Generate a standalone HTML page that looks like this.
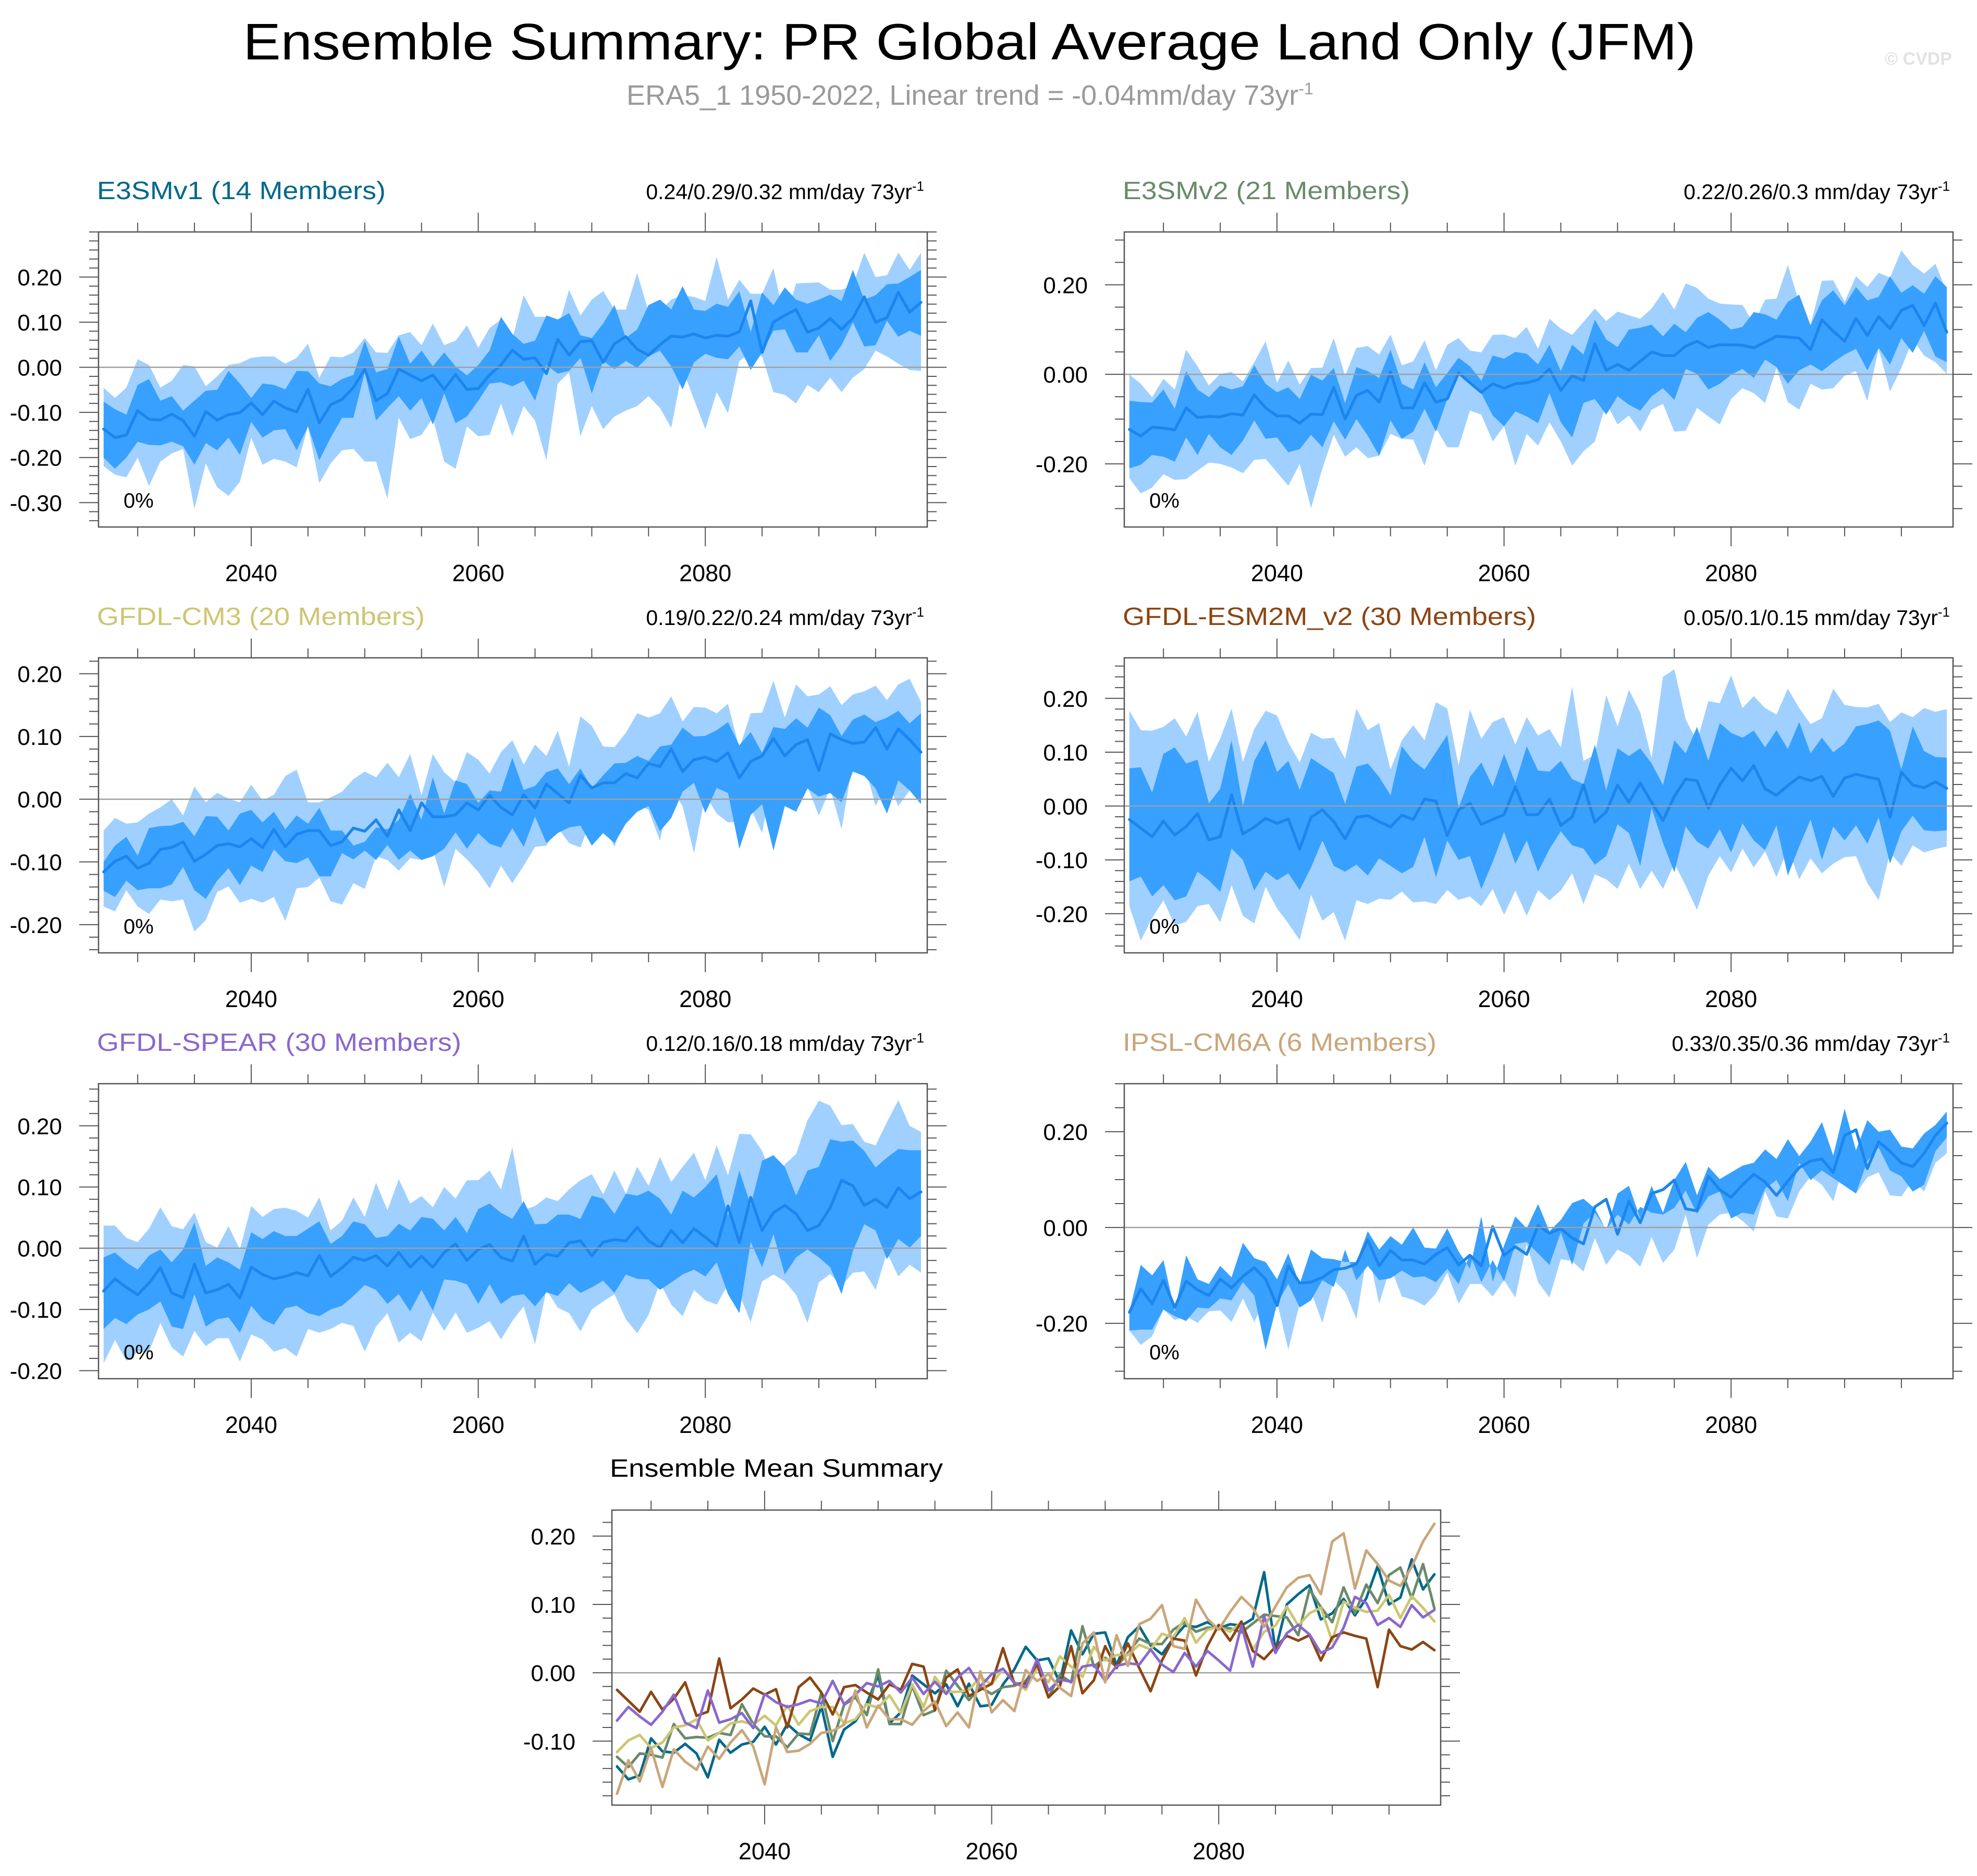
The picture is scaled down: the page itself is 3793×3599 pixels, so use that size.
<!DOCTYPE html>
<html><head><meta charset="utf-8"><title>Ensemble Summary: PR Global Average Land Only (JFM)</title>
<style>html,body{margin:0;padding:0;background:#fff;}svg{display:block;font-family:"Liberation Sans",Arial,sans-serif;}</style>
</head><body>
<svg id="root" width="3793" height="3599" viewBox="0 0 3793 3599" xmlns="http://www.w3.org/2000/svg">
<text x="1860" y="114" font-size="98" text-anchor="middle" textLength="2787" lengthAdjust="spacingAndGlyphs" fill="#000">Ensemble Summary: PR Global Average Land Only (JFM)</text>
<text x="1202" y="201" font-size="54" fill="#9a9a9a">ERA5_1 1950-2022, Linear trend = -0.04mm/day 73yr<tspan dy="-20" font-size="32">-1</tspan></text>
<text x="3745" y="124" font-size="34" font-weight="bold" text-anchor="end" fill="#e2e2e2">© CVDP</text>
<g id="plots"></g>
</svg>
<script>
const years = [2027,2028,2029,2030,2031,2032,2033,2034,2035,2036,2037,2038,2039,2040,2041,2042,2043,2044,2045,2046,2047,2048,2049,2050,2051,2052,2053,2054,2055,2056,2057,2058,2059,2060,2061,2062,2063,2064,2065,2066,2067,2068,2069,2070,2071,2072,2073,2074,2075,2076,2077,2078,2079,2080,2081,2082,2083,2084,2085,2086,2087,2088,2089,2090,2091,2092,2093,2094,2095,2096,2097,2098,2099];
const xTickLabels = [2040,2060,2080];

// E3SMv1
const e3smv1Mean = [-0.137,-0.156,-0.15,-0.096,-0.115,-0.117,-0.104,-0.118,-0.153,-0.098,-0.117,-0.105,-0.101,-0.079,-0.105,-0.075,-0.09,-0.099,-0.049,-0.123,-0.083,-0.071,-0.045,-0.004,-0.074,-0.058,-0.004,-0.017,-0.03,-0.017,-0.049,-0.016,-0.049,-0.047,-0.017,0.005,0.038,0.018,0.021,-0.014,0.062,0.027,0.057,0.059,0.011,0.052,0.068,0.04,0.027,0.05,0.069,0.067,0.074,0.065,0.071,0.069,0.079,0.147,0.033,0.1,0.115,0.128,0.078,0.087,0.108,0.084,0.109,0.156,0.1,0.11,0.166,0.122,0.144];
const e3smv1InHi = [-0.076,-0.093,-0.105,-0.039,-0.026,-0.074,-0.064,-0.096,-0.074,-0.052,-0.05,-0.008,-0.036,-0.068,-0.036,-0.039,-0.049,-0.008,-0.009,-0.036,-0.042,-0.026,-0.017,0.059,-0.011,-0.004,0.068,0.008,0.037,0.002,0.033,0.002,-0.018,0.005,0.037,0.112,0.074,0.052,0.059,0.115,0.106,0.12,0.071,0.065,0.097,0.138,0.065,0.084,0.138,0.15,0.128,0.18,0.128,0.125,0.141,0.134,0.169,0.078,0.166,0.138,0.177,0.15,0.141,0.15,0.161,0.147,0.216,0.15,0.16,0.184,0.186,0.2,0.216];
const e3smv1InLo = [-0.2,-0.225,-0.2,-0.165,-0.172,-0.173,-0.165,-0.175,-0.216,-0.168,-0.184,-0.156,-0.194,-0.121,-0.156,-0.14,-0.137,-0.184,-0.131,-0.206,-0.156,-0.112,-0.112,-0.011,-0.118,-0.09,-0.064,-0.096,-0.068,-0.127,-0.058,-0.124,-0.109,-0.074,-0.036,-0.033,-0.042,-0.03,-0.074,0.005,-0.014,-0.008,0.021,-0.058,0.014,-0.004,0.014,-0.001,0.024,0.037,0.002,-0.049,0.011,0.03,0.021,0.018,0.046,-0.006,0.033,0.081,0.084,0.033,0.033,0.071,0.014,0.049,0.1,0.046,0.049,0.103,0.068,0.081,0.07];
const e3smv1OutHi = [-0.045,-0.068,-0.045,0.018,0.005,-0.045,-0.03,0.005,0.002,-0.042,-0.02,0.005,0.009,0.021,0.024,0.024,0.008,0.021,0.052,-0.023,0.024,0.022,0.033,0.065,0.033,0.032,0.071,0.078,0.049,0.097,0.049,0.059,0.093,0.043,0.087,0.106,0.062,0.16,0.112,0.112,0.084,0.172,0.115,0.15,0.169,0.128,0.128,0.209,0.123,0.125,0.15,0.16,0.156,0.147,0.245,0.15,0.194,0.163,0.163,0.22,0.103,0.186,0.187,0.188,0.172,0.172,0.181,0.254,0.2,0.204,0.254,0.216,0.254];
const e3smv1OutLo = [-0.219,-0.238,-0.244,-0.2,-0.263,-0.209,-0.191,-0.181,-0.314,-0.213,-0.266,-0.285,-0.254,-0.156,-0.216,-0.203,-0.209,-0.222,-0.131,-0.257,-0.213,-0.184,-0.181,-0.209,-0.209,-0.291,-0.112,-0.159,-0.15,-0.112,-0.209,-0.225,-0.131,-0.153,-0.15,-0.08,-0.153,-0.086,-0.118,-0.206,-0.036,-0.011,-0.153,-0.086,-0.137,-0.109,-0.096,-0.086,-0.064,-0.09,-0.134,-0.004,-0.071,-0.137,-0.055,-0.102,0.014,0.033,0.024,-0.055,-0.061,-0.08,-0.039,-0.055,-0.023,-0.055,-0.023,-0.004,0.037,0.024,0.008,-0.006,-0.008];

// E3SMv2
const e3smv2Mean = [-0.123,-0.138,-0.118,-0.12,-0.124,-0.075,-0.096,-0.094,-0.095,-0.088,-0.091,-0.046,-0.075,-0.093,-0.093,-0.109,-0.089,-0.09,-0.029,-0.1,-0.047,-0.036,-0.062,0.005,-0.075,-0.075,-0.019,-0.062,-0.055,0.003,-0.019,-0.04,-0.021,-0.031,-0.021,-0.019,-0.012,0.012,-0.036,-0.003,-0.014,0.068,0.009,0.022,0.009,0.029,0.05,0.042,0.042,0.063,0.074,0.06,0.066,0.066,0.065,0.059,0.072,0.085,0.083,0.081,0.055,0.122,0.096,0.074,0.125,0.087,0.129,0.102,0.143,0.154,0.109,0.159,0.094];
const e3smv2InHi = [-0.059,-0.062,-0.063,-0.034,-0.077,0.007,-0.034,-0.051,-0.025,-0.034,-0.027,0.02,-0.021,-0.04,-0.029,-0.055,-0.001,-0.014,0.014,-0.064,0.016,0.007,-0.008,0.055,-0.021,-0.034,0.027,-0.029,0.003,0.037,0.018,-0.014,0.042,0.035,0.05,0.046,0.022,0.066,0.007,0.066,0.044,0.122,0.078,0.061,0.1,0.104,0.111,0.085,0.113,0.094,0.126,0.139,0.122,0.1,0.106,0.139,0.134,0.122,0.162,0.178,0.109,0.165,0.188,0.154,0.195,0.165,0.173,0.219,0.182,0.199,0.18,0.219,0.195];
const e3smv2InLo = [-0.21,-0.202,-0.18,-0.184,-0.195,-0.141,-0.18,-0.133,-0.163,-0.18,-0.148,-0.103,-0.144,-0.141,-0.174,-0.167,-0.135,-0.163,-0.105,-0.146,-0.1,-0.137,-0.182,-0.103,-0.144,-0.128,-0.077,-0.128,-0.055,0.003,-0.021,-0.042,-0.092,-0.116,-0.083,-0.094,-0.109,-0.042,-0.107,-0.141,-0.064,-0.055,-0.09,-0.049,-0.068,-0.081,-0.049,-0.031,-0.057,0.012,0.001,-0.034,-0.021,-0.001,0.012,-0.008,0.033,0.016,-0.021,0.009,0.022,0.007,0.027,0.044,0.057,0.009,0.059,0.022,0.081,0.048,0.097,0.04,0.027];
const e3smv2OutHi = [0,-0.021,-0.051,-0.01,-0.034,0.055,0.018,-0.025,0.001,0.005,-0.016,0.027,0.074,-0.019,0.031,-0.023,0.014,0.015,0.081,-0.003,0.059,0.063,0.044,0.089,0.02,0.029,0.076,0.009,0.066,0.081,0.053,0.049,0.088,0.089,0.081,0.106,0.057,0.124,0.102,0.088,0.117,0.147,0.119,0.14,0.132,0.124,0.147,0.184,0.145,0.203,0.193,0.169,0.158,0.156,0.155,0.113,0.167,0.169,0.244,0.16,0.111,0.209,0.21,0.162,0.219,0.195,0.227,0.216,0.277,0.244,0.225,0.247,0.184];
const e3smv2OutLo = [-0.232,-0.266,-0.253,-0.223,-0.236,-0.234,-0.215,-0.197,-0.2,-0.208,-0.221,-0.191,-0.189,-0.219,-0.249,-0.2,-0.299,-0.21,-0.135,-0.184,-0.163,-0.187,-0.182,-0.133,-0.144,-0.146,-0.204,-0.12,-0.163,-0.163,-0.081,-0.09,-0.15,-0.116,-0.204,-0.133,-0.159,-0.107,-0.15,-0.204,-0.172,-0.15,-0.064,-0.112,-0.092,-0.128,-0.079,-0.066,-0.128,-0.126,-0.075,-0.094,-0.112,-0.055,-0.031,-0.042,-0.064,0.014,-0.062,-0.079,-0.021,-0.034,-0.031,-0.003,0.007,-0.059,0.057,-0.038,0.014,0.078,0.042,0.027,0.001];

// GFDL-CM3
const cm3Mean = [-0.116,-0.099,-0.091,-0.11,-0.102,-0.08,-0.077,-0.068,-0.099,-0.088,-0.074,-0.071,-0.076,-0.063,-0.077,-0.048,-0.076,-0.056,-0.05,-0.05,-0.074,-0.068,-0.046,-0.051,-0.033,-0.059,-0.017,-0.05,-0.006,-0.028,-0.028,-0.025,-0.006,-0.017,0.006,-0.013,-0.025,0.007,-0.014,0.024,0.009,-0.006,0.038,0.018,0.026,0.026,0.041,0.034,0.057,0.052,0.08,0.044,0.063,0.067,0.06,0.074,0.034,0.06,0.069,0.097,0.069,0.087,0.095,0.046,0.104,0.095,0.089,0.091,0.114,0.08,0.112,0.095,0.075];
const cm3InHi = [-0.1,-0.074,-0.06,-0.09,-0.046,-0.043,-0.042,-0.036,-0.059,-0.027,-0.028,-0.05,-0.023,-0.017,-0.037,-0.02,-0.048,-0.026,-0.039,-0.014,-0.05,-0.05,-0.074,-0.068,-0.045,-0.048,-0.033,0.009,-0.033,0.035,-0.023,0.03,0.024,-0.006,0.014,0.012,0.066,0.015,0.021,0.043,0.049,0.024,0.049,0.018,0.038,0.057,0.058,0.069,0.061,0.084,0.087,0.114,0.1,0.101,0.11,0.123,0.086,0.107,0.074,0.115,0.112,0.129,0.114,0.146,0.134,0.101,0.127,0.135,0.123,0.13,0.141,0.121,0.137];
const cm3InLo = [-0.146,-0.156,-0.13,-0.145,-0.142,-0.142,-0.136,-0.108,-0.145,-0.159,-0.13,-0.11,-0.137,-0.106,-0.116,-0.08,-0.099,-0.102,-0.093,-0.123,-0.123,-0.086,-0.096,-0.082,-0.097,-0.073,-0.097,-0.082,-0.097,-0.091,-0.079,-0.053,-0.079,-0.054,-0.071,-0.077,-0.046,-0.076,-0.028,-0.07,-0.054,-0.045,-0.042,-0.074,-0.054,-0.07,-0.039,-0.02,-0.011,-0.051,-0.03,0.012,0.026,-0.022,0.018,0.01,-0.079,-0.025,-0.008,-0.082,-0.011,-0.02,0.017,0.004,0.01,-0.005,0.044,0.037,0.017,-0.023,0.03,0.014,-0.008];
const cm3OutHi = [-0.05,-0.03,-0.039,-0.037,-0.023,-0.013,0,-0.026,0.02,-0.005,0.01,0.001,-0.005,0.023,-0.002,0.007,0.037,0.047,-0.005,-0.005,0.003,0.012,0.032,0.044,0.035,0.058,0.035,0.072,0.006,0.072,0.043,0.027,0.075,0.063,0.041,0.075,0.094,0.055,0.087,0.069,0.109,0.052,0.132,0.117,0.084,0.083,0.106,0.137,0.13,0.137,0.164,0.124,0.147,0.146,0.137,0.152,0.081,0.137,0.138,0.189,0.13,0.183,0.164,0.167,0.18,0.15,0.167,0.172,0.181,0.158,0.183,0.192,0.155];
const cm3OutLo = [-0.171,-0.179,-0.145,-0.171,-0.183,-0.16,-0.163,-0.16,-0.211,-0.193,-0.148,-0.139,-0.165,-0.159,-0.165,-0.156,-0.194,-0.142,-0.14,-0.125,-0.163,-0.168,-0.134,-0.143,-0.091,-0.097,-0.114,-0.094,-0.097,-0.08,-0.14,-0.079,-0.096,-0.116,-0.142,-0.106,-0.134,-0.106,-0.076,-0.074,-0.045,-0.07,-0.077,-0.03,-0.039,-0.076,-0.022,-0.008,-0.017,-0.066,0.017,-0.011,-0.086,0.007,-0.023,-0.037,-0.036,-0.014,-0.054,0.044,0.032,-0.017,0.02,-0.026,0.017,-0.048,0.06,0.057,-0.011,0.029,-0.011,0.014,-0.005];

// GFDL-ESM2M_v2
const esm2mMean = [-0.025,-0.041,-0.057,-0.028,-0.054,-0.038,-0.014,-0.063,-0.057,0.021,-0.052,-0.039,-0.023,-0.032,-0.024,-0.08,-0.021,-0.007,-0.029,-0.061,-0.021,-0.018,-0.029,-0.039,-0.017,-0.025,0.013,0.009,-0.055,-0.007,0.005,-0.034,-0.025,-0.016,0.036,-0.016,-0.016,0.013,-0.036,-0.02,0.039,-0.03,-0.011,0.039,0.007,0.043,0.007,-0.027,0.018,0.05,0.047,-0.004,0.039,0.07,0.047,0.075,0.032,0.02,0.038,0.054,0.047,0.055,0.018,0.052,0.059,0.054,0.05,-0.021,0.063,0.039,0.034,0.045,0.033];
const esm2mInHi = [0.07,0.072,0.025,0.097,0.109,0.079,0.086,0.005,0.032,0.122,0,0.084,0.122,0.063,0.084,0.03,0.089,0.075,0.061,0.004,0.073,0.079,0.054,0.02,0.111,0.084,0.068,0.1,0.132,-0.004,0.054,0.081,0.036,0.097,0.043,0.111,0.066,0.064,0.084,0.05,0.041,0.114,0.029,0.107,0.093,0.107,0.079,0.039,0.122,0.098,0.147,0.084,0.154,0.136,0.127,0.14,0.109,0.141,0.106,0.156,0.098,0.127,0.1,0.116,0.148,0.152,0.159,0.14,0.068,0.148,0.102,0.091,0.09];
const esm2mInLo = [-0.14,-0.131,-0.168,-0.147,-0.175,-0.168,-0.122,-0.138,-0.159,-0.079,-0.1,-0.157,-0.122,-0.138,-0.125,-0.156,-0.114,-0.064,-0.111,-0.122,-0.109,-0.129,-0.097,-0.111,-0.125,-0.113,-0.057,-0.132,-0.064,-0.1,-0.093,-0.154,-0.104,-0.048,-0.107,-0.064,-0.122,-0.08,-0.047,-0.073,-0.079,-0.109,-0.093,-0.034,-0.05,-0.111,-0.004,-0.068,-0.123,-0.038,-0.066,-0.079,-0.043,-0.086,-0.032,-0.064,-0.082,-0.036,-0.129,-0.075,-0.025,-0.1,-0.038,-0.064,-0.036,-0.07,-0.021,-0.107,-0.047,-0.018,-0.045,-0.047,-0.045];
const esm2mOutHi = [0.177,0.141,0.14,0.147,0.163,0.129,0.175,0.082,0.125,0.181,0.082,0.143,0.177,0.168,0.118,0.081,0.136,0.125,0.127,0.088,0.181,0.141,0.154,0.068,0.122,0.15,0.122,0.193,0.181,0.075,0.179,0.125,0.156,0.165,0.114,0.165,0.131,0.143,0.109,0.222,0.084,0.095,0.206,0.148,0.216,0.174,0.089,0.24,0.254,0.161,0.12,0.195,0.191,0.243,0.182,0.204,0.182,0.17,0.218,0.182,0.152,0.163,0.218,0.188,0.184,0.183,0.19,0.156,0.174,0.165,0.182,0.175,0.18];
const esm2mOutLo = [-0.186,-0.25,-0.208,-0.175,-0.222,-0.215,-0.186,-0.182,-0.216,-0.147,-0.204,-0.218,-0.15,-0.19,-0.218,-0.249,-0.165,-0.213,-0.197,-0.25,-0.175,-0.182,-0.172,-0.174,-0.159,-0.179,-0.177,-0.182,-0.156,-0.174,-0.168,-0.186,-0.154,-0.202,-0.157,-0.204,-0.156,-0.175,-0.157,-0.125,-0.182,-0.127,-0.136,-0.154,-0.107,-0.154,-0.12,-0.154,-0.106,-0.148,-0.193,-0.129,-0.093,-0.123,-0.079,-0.114,-0.084,-0.132,-0.079,-0.136,-0.097,-0.125,-0.107,-0.095,-0.093,-0.143,-0.175,-0.086,-0.111,-0.073,-0.086,-0.08,-0.075];

// GFDL-SPEAR
const spearMean = [-0.07,-0.05,-0.064,-0.076,-0.057,-0.032,-0.073,-0.081,-0.026,-0.073,-0.068,-0.059,-0.081,-0.031,-0.043,-0.05,-0.046,-0.04,-0.045,-0.012,-0.046,-0.032,-0.015,-0.02,-0.012,-0.029,-0.007,-0.031,-0.013,-0.031,-0.007,0.007,-0.02,-0.002,0.006,-0.015,-0.021,0.02,-0.026,-0.01,-0.013,0.009,0.012,-0.012,0.01,0.014,0.012,0.034,0.012,0.001,0.029,0.009,0.032,0.018,0.003,0.069,0.009,0.083,0.029,0.058,0.07,0.056,0.029,0.037,0.066,0.111,0.102,0.07,0.08,0.067,0.099,0.081,0.092];
const spearInHi = [-0.015,-0.007,-0.023,-0.035,-0.012,-0.002,-0.023,-0.002,0.042,-0.029,-0.015,-0.023,-0.035,0.026,0.015,0.028,0.02,0.02,0.032,0.044,0.007,0.02,0.044,0.039,0.017,0.02,0.04,0.029,0.051,0.048,0.029,0.051,0.025,0.064,0.073,0.058,0.048,0.077,0.039,0.04,0.055,0.055,0.048,0.086,0.081,0.056,0.089,0.086,0.094,0.081,0.055,0.094,0.083,0.1,0.121,0.053,0.127,0.07,0.143,0.152,0.133,0.086,0.127,0.133,0.178,0.174,0.176,0.159,0.132,0.148,0.162,0.16,0.16];
const spearInLo = [-0.132,-0.114,-0.124,-0.108,-0.1,-0.087,-0.128,-0.132,-0.075,-0.128,-0.116,-0.113,-0.138,-0.094,-0.116,-0.125,-0.098,-0.094,-0.106,-0.111,-0.1,-0.094,-0.078,-0.06,-0.068,-0.091,-0.075,-0.103,-0.068,-0.102,-0.051,-0.053,-0.059,-0.091,-0.059,-0.091,-0.078,-0.075,-0.095,-0.072,-0.078,-0.057,-0.073,-0.064,-0.053,-0.073,-0.043,-0.05,-0.051,-0.068,-0.056,-0.043,-0.035,-0.046,-0.023,-0.075,-0.106,0.01,-0.031,0.023,-0.043,-0.015,-0.002,-0.015,-0.031,-0.075,-0.005,0.039,0.029,-0.018,0.015,0.001,0.02];
const spearOutHi = [0.037,0.037,0.017,0.01,0.032,0.067,0.036,0.031,0.058,0.01,0.001,0.036,-0.002,0.069,0.051,0.064,0.066,0.061,0.05,0.083,0.029,0.045,0.083,0.051,0.107,0.062,0.113,0.073,0.085,0.067,0.1,0.081,0.111,0.111,0.127,0.096,0.165,0.062,0.069,0.083,0.077,0.096,0.111,0.121,0.088,0.127,0.089,0.133,0.102,0.149,0.108,0.133,0.156,0.111,0.168,0.119,0.187,0.186,0.159,0.111,0.137,0.154,0.209,0.241,0.233,0.201,0.203,0.174,0.168,0.206,0.242,0.2,0.19];
const spearOutLo = [-0.188,-0.15,-0.184,-0.169,-0.169,-0.122,-0.162,-0.177,-0.135,-0.16,-0.147,-0.147,-0.185,-0.141,-0.149,-0.169,-0.163,-0.177,-0.132,-0.138,-0.132,-0.122,-0.127,-0.169,-0.128,-0.106,-0.154,-0.138,-0.152,-0.105,-0.135,-0.105,-0.138,-0.13,-0.119,-0.149,-0.119,-0.095,-0.157,-0.068,-0.097,-0.106,-0.136,-0.1,-0.087,-0.075,-0.116,-0.139,-0.109,-0.056,-0.092,-0.111,-0.068,-0.085,-0.092,-0.059,-0.075,-0.121,-0.054,-0.043,-0.054,-0.076,-0.122,-0.056,-0.042,-0.062,-0.04,-0.038,-0.068,-0.007,-0.046,-0.027,-0.04];

// IPSL-CM6A
const ipslMean = [-0.177,-0.128,-0.159,-0.11,-0.167,-0.112,-0.13,-0.142,-0.108,-0.126,-0.102,-0.084,-0.108,-0.163,-0.08,-0.116,-0.114,-0.104,-0.088,-0.085,-0.076,-0.026,-0.08,-0.048,-0.068,-0.068,-0.076,-0.056,-0.042,-0.078,-0.058,-0.08,0.002,-0.058,-0.04,-0.056,0.004,-0.012,-0.002,-0.022,-0.034,0.043,0.059,-0.014,0.055,0.01,0.071,0.079,0.099,0.039,0.035,0.107,0.079,0.063,0.089,0.111,0.095,0.067,0.097,0.125,0.139,0.143,0.115,0.192,0.204,0.123,0.179,0.159,0.135,0.127,0.155,0.192,0.218];
const ipslInHi = [-0.175,-0.078,-0.1,-0.068,-0.175,-0.058,-0.108,-0.118,-0.08,-0.104,-0.032,-0.064,-0.072,-0.108,-0.054,-0.118,-0.046,-0.064,-0.066,-0.072,-0.072,-0.008,-0.046,-0.018,-0.036,0,-0.042,-0.044,-0.002,-0.05,-0.086,0.023,-0.114,-0.038,0.023,-0.002,0.049,-0.008,0.016,0.051,0.06,0.04,-0.006,0.071,0.087,0.019,0.087,0.031,0.099,0.137,0.067,0.127,0.101,0.115,0.129,0.135,0.163,0.143,0.184,0.149,0.179,0.22,0.15,0.248,0.161,0.224,0.2,0.204,0.169,0.165,0.196,0.214,0.242];
const ipslInLo = [-0.215,-0.213,-0.213,-0.171,-0.185,-0.195,-0.167,-0.169,-0.148,-0.152,-0.114,-0.142,-0.255,-0.159,-0.118,-0.167,-0.152,-0.11,-0.124,-0.046,-0.11,-0.08,-0.11,-0.106,-0.09,-0.104,-0.102,-0.114,-0.086,-0.118,-0.056,-0.114,-0.068,-0.112,-0.034,-0.03,-0.054,-0.078,-0.01,-0.078,0.008,0.031,-0.004,0.027,0.006,0.043,0.031,0.027,0.041,0.077,0.029,0.065,0.075,0.019,0.031,0.027,0.081,0.099,0.055,0.135,0.099,0.119,0.103,0.087,0.071,0.139,0.167,0.119,0.107,0.075,0.089,0.159,0.188];
const ipslOutHi = [-0.175,-0.078,-0.1,-0.068,-0.175,-0.058,-0.108,-0.118,-0.08,-0.104,-0.032,-0.064,-0.072,-0.108,-0.054,-0.118,-0.046,-0.064,-0.066,-0.072,-0.072,-0.008,-0.046,-0.018,-0.036,0,-0.042,-0.044,-0.002,-0.05,-0.086,0.023,-0.114,-0.038,0.023,-0.002,0.049,-0.008,0.016,0.051,0.06,0.04,-0.006,0.071,0.087,0.019,0.087,0.031,0.099,0.137,0.067,0.127,0.101,0.115,0.129,0.135,0.163,0.143,0.184,0.149,0.179,0.22,0.15,0.248,0.161,0.224,0.2,0.204,0.169,0.165,0.196,0.214,0.242];
const ipslOutLo = [-0.215,-0.245,-0.227,-0.171,-0.193,-0.185,-0.199,-0.175,-0.173,-0.197,-0.148,-0.197,-0.148,-0.155,-0.255,-0.159,-0.134,-0.199,-0.11,-0.134,-0.191,-0.046,-0.159,-0.082,-0.144,-0.151,-0.163,-0.138,-0.094,-0.159,-0.118,-0.118,-0.144,-0.11,-0.146,-0.034,-0.114,-0.146,-0.066,-0.07,-0.092,-0.022,-0.078,-0.046,-0.058,-0.082,-0.02,-0.074,-0.046,0.027,-0.064,0.006,0.027,0.031,0.014,-0.008,0.075,0.023,0.019,0.075,0.107,0.089,0.055,0.139,0.071,0.105,0.115,0.067,0.065,0.099,0.075,0.135,0.155];

// tick label arrays
const p1YTicks = [-0.3,-0.2,-0.1,0,0.1,0.2];
const p2YTicks = [-0.2,0,0.2];
const p3YTicks = [-0.2,-0.1,0,0.1,0.2];
const p4YTicks = [-0.2,-0.1,0,0.1,0.2];
const p5YTicks = [-0.2,-0.1,0,0.1,0.2];
const p6YTicks = [-0.2,0,0.2];
const summaryYTicks = [-0.1,0,0.1,0.2];

const modelNames = ["E3SMv1 (14 Members)","E3SMv2 (21 Members)","GFDL-CM3 (20 Members)","GFDL-ESM2M_v2 (30 Members)","GFDL-SPEAR (30 Members)","IPSL-CM6A (6 Members)"];
const trendLabels = ["0.24/0.29/0.32 mm/day 73yr","0.22/0.26/0.3 mm/day 73yr","0.19/0.22/0.24 mm/day 73yr","0.05/0.1/0.15 mm/day 73yr","0.12/0.16/0.18 mm/day 73yr","0.33/0.35/0.36 mm/day 73yr"];
const modelColors = ["#00688b","#698b69","#cdc673","#8b4513","#8968cd","#c9a67a"];

const NS = "http://www.w3.org/2000/svg";
const root = document.getElementById("plots");
function mk(tag, attrs, parent){ const e=document.createElementNS(NS,tag); for(const k in attrs) e.setAttribute(k,attrs[k]); (parent||root).appendChild(e); return e; }

const XMIN = 2026.55, XMAX = 2099.55, H = 566, W = 1590;
function xScale(box){ return y => box.x + (y - XMIN)/(XMAX - XMIN)*W; }
function yScale(box, lo, hi){ return v => box.y + (hi - v)/(hi - lo)*H; }
function fmt(v){ return (Math.abs(v)<1e-9?0:v).toFixed(2); }

function axes(g, box, lo, hi, yTicks, minorStep, sx, sy, name){
  const z = mk("line",{x1:box.x,x2:box.x+W,y1:sy(0),y2:sy(0),stroke:"#a0a0a0","stroke-width":2.5},g);
  
  
  const start = Math.ceil(lo/minorStep - 1e-6);
  for(let k=start; k*minorStep<=hi+1e-9; k++){
    const v=k*minorStep, yy=sy(v);
    const isMajor = yTicks.some(t=>Math.abs(t-v)<1e-6);
    const len = isMajor?37:18;
    mk("line",{x1:box.x-len,x2:box.x,y1:yy,y2:yy,stroke:"#555","stroke-width":2},g);
    mk("line",{x1:box.x+W,x2:box.x+W+len,y1:yy,y2:yy,stroke:"#555","stroke-width":2},g);
  }
  yTicks.forEach(v=>{
    const t = mk("text",{x:box.x-70,y:sy(v)+16,"font-size":44,"text-anchor":"end",fill:"#000"},g);
    t.textContent = fmt(v);
    
    
  });
  for(let yr=2030; yr<=2095; yr+=5){
    const xx=sx(yr), isMajor = xTickLabels.includes(yr), len = isMajor?37:18;
    mk("line",{x1:xx,x2:xx,y1:box.y-len,y2:box.y,stroke:"#555","stroke-width":2},g);
    mk("line",{x1:xx,x2:xx,y1:box.y+H,y2:box.y+H+len,stroke:"#555","stroke-width":2},g);
  }
  xTickLabels.forEach(yr=>{
    const t = mk("text",{x:sx(yr),y:box.y+H+104,"font-size":45,"text-anchor":"middle",fill:"#000"},g);
    t.textContent = yr;
    
    
  });
  const fr = mk("rect",{x:box.x,y:box.y,width:W,height:H,fill:"none",stroke:"#555","stroke-width":2.5},g);
  
  
}

function band(g, hiArr, loArr, sx, sy, color, name){
  const n = Math.min(hiArr.length, loArr.length, years.length);
  const pts=[];
  for(let i=0;i<n;i++) pts.push(sx(years[i]).toFixed(1)+","+sy(hiArr[i]).toFixed(1));
  for(let i=n-1;i>=0;i--) pts.push(sx(years[i]).toFixed(1)+","+sy(loArr[i]).toFixed(1));
  const p = mk("polygon",{points:pts.join(" "),fill:color,stroke:"none"},g);
  
  
}
function line(g, arr, sx, sy, color, w, name){
  const n=Math.min(arr.length, years.length), pts=[];
  for(let i=0;i<n;i++) pts.push(sx(years[i]).toFixed(1)+","+sy(arr[i]).toFixed(1));
  const p = mk("polyline",{points:pts.join(" "),fill:"none",stroke:color,"stroke-width":w,"stroke-linejoin":"round","stroke-linecap":"round"},g);
  
  
}

const panels = [
  {key:"e3smv1", box:{x:189,y:445}, lo:-0.354, hi:0.300, ticks:p1YTicks, minor:0.02, data:[e3smv1Mean,e3smv1InHi,e3smv1InLo,e3smv1OutHi,e3smv1OutLo], tl:554},
  {key:"e3smv2", box:{x:2157,y:445}, lo:-0.341, hi:0.318, ticks:p2YTicks, minor:0.05, data:[e3smv2Mean,e3smv2InHi,e3smv2InLo,e3smv2OutHi,e3smv2OutLo], tl:551},
  {key:"gfdl-cm3", box:{x:189,y:1262}, lo:-0.245, hi:0.2254, ticks:p3YTicks, minor:0.02, data:[cm3Mean,cm3InHi,cm3InLo,cm3OutHi,cm3OutLo], tl:629},
  {key:"gfdl-esm2m", box:{x:2157,y:1262}, lo:-0.2727, hi:0.2753, ticks:p4YTicks, minor:0.02, data:[esm2mMean,esm2mInHi,esm2mInLo,esm2mOutHi,esm2mOutLo], tl:793},
  {key:"gfdl-spear", box:{x:189,y:2079}, lo:-0.2132, hi:0.2688, ticks:p5YTicks, minor:0.02, data:[spearMean,spearInHi,spearInLo,spearOutHi,spearOutLo], tl:699},
  {key:"ipsl-cm6a", box:{x:2157,y:2079}, lo:-0.3156, hi:0.3002, ticks:p6YTicks, minor:0.05, data:[ipslMean,ipslInHi,ipslInLo,ipslOutHi,ipslOutLo], tl:602}
];

panels.forEach((P,idx)=>{
  const g = mk("g",{});
  
  
  const sx = xScale(P.box), sy = yScale(P.box, P.lo, P.hi);
  const [mean,inHi,inLo,outHi,outLo] = P.data;
  band(g, outHi, outLo, sx, sy, "#a0d0ff", P.key+'-outer-range-band');
  band(g, inHi, inLo, sx, sy, "#38a0ff", P.key+'-inner-range-band');
  line(g, mean, sx, sy, "#1c86ee", 5.5, P.key+'-ensemble-mean-line');
  axes(g, P.box, P.lo, P.hi, P.ticks, P.minor, sx, sy, P.key);
  const t = mk("text",{x:P.box.x-3,y:P.box.y-63,"font-size":48,fill:modelColors[idx],textLength:P.tl,lengthAdjust:"spacingAndGlyphs"},g);
  t.textContent = modelNames[idx];
  
  
  const tr = mk("text",{x:P.box.x+W-6,y:P.box.y-63,"font-size":41,"text-anchor":"end",fill:"#000"},g);
  tr.textContent = trendLabels[idx];
  const sup = mk("tspan",{dy:-16,"font-size":26},tr);
  sup.textContent = "-1";
  
  
  const pc = mk("text",{x:P.box.x+48,y:P.box.y+H-37,"font-size":40,fill:"#000"},g);
  pc.textContent = "0%";
  
  
});

(function(){
  const box = {x:1174,y:2897}, lo=-0.1936, hi=0.238;
  const g = mk("g",{});
  
  
  const sx = xScale(box), sy = yScale(box, lo, hi);
  const means = [e3smv1Mean,e3smv2Mean,cm3Mean,esm2mMean,spearMean,ipslMean];
  const keys = ["e3smv1","e3smv2","gfdl-cm3","gfdl-esm2m","gfdl-spear","ipsl-cm6a"];
  axes(g, box, lo, hi, summaryYTicks, 0.02, sx, sy, 'summary');
  means.forEach((m,i)=> line(g, m, sx, sy, modelColors[i], 5, 'summary-line-'+keys[i]));
  const t = mk("text",{x:1170,y:2833,"font-size":48,fill:"#000",textLength:639,lengthAdjust:"spacingAndGlyphs"},g);
  t.textContent = "Ensemble Mean Summary";
  
  
})();
</script>
</body></html>
